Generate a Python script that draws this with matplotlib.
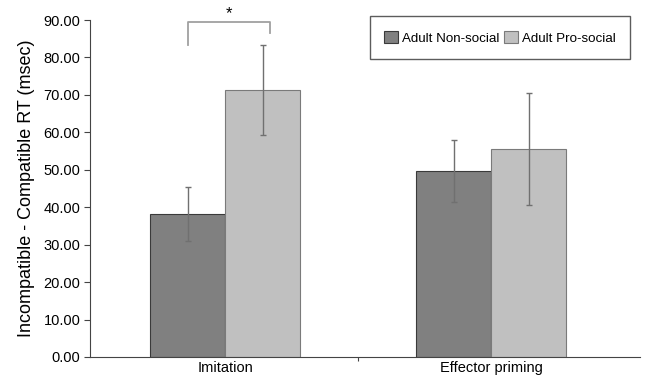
import matplotlib.pyplot as plt
import numpy as np

plt.rcParams['font.family'] = ['Liberation Sans', 'DejaVu Sans']

categories = ["Imitation", "Effector priming"]
series_names = ["Adult Non-social", "Adult Pro-social"]
non_social = [38.2, 49.6]
non_social_err = [7.2, 8.3]
pro_social = [71.3, 55.5]
pro_social_err = [11.9, 15.0]
y_ticks = [0, 10, 20, 30, 40, 50, 60, 70, 80, 90]

fig = plt.figure(figsize=(6.46, 3.77), dpi=100)
ax = fig.add_axes([90 / 646, 20 / 377, 550 / 646, 337 / 377])

x = np.arange(len(categories))
w = 0.282
err_kw = dict(ecolor="#707070", elinewidth=1.0, capsize=2.5, capthick=1.0)
ax.bar(x - w / 2, non_social, w, yerr=non_social_err, color="#808080",
       edgecolor="#3a3a3a", linewidth=0.8, label=series_names[0], error_kw=err_kw)
ax.bar(x + w / 2, pro_social, w, yerr=pro_social_err, color="#c0c0c0",
       edgecolor="#7a7a7a", linewidth=0.8, label=series_names[1], error_kw=err_kw)

ax.set_xlim(-0.508, 1.56)
ax.set_ylim(0, 90)
ax.set_yticks(y_ticks)
ax.set_yticklabels([f"{v:.2f}" for v in y_ticks], fontsize=10.5)
ax.tick_params(axis="y", direction="out", length=4, color="#444444", pad=3)

ax.set_xticks([0.5])
ax.set_xticklabels([""])
ax.tick_params(axis="x", direction="out", length=3, color="#444444")
for xi, name in zip(x, categories):
    ax.text(xi, -1.0, name, ha="center", va="top", fontsize=10.5)

ax.set_ylabel("Incompatible - Compatible RT (msec)", fontsize=13, labelpad=6)
for side in ["top", "right"]:
    ax.spines[side].set_visible(False)
ax.spines["left"].set_color("#444444")
ax.spines["bottom"].set_color("#444444")

# significance bracket
bx0 = x[0] - w / 2
bx1 = x[0] + 0.169
ax.plot([bx0, bx0, bx1, bx1], [83.4, 89.5, 89.5, 86.6], color="#a0a0a0", lw=1.3,
        clip_on=False)
ax.text((bx0 + bx1) / 2, 89.8, "*", ha="center", va="bottom", fontsize=12)

leg = ax.legend(loc="upper right", bbox_to_anchor=(0.982, 1.012), ncol=2, fontsize=9.6,
                frameon=True, fancybox=False, edgecolor="#333333",
                handlelength=1.0, handleheight=1.1, handletextpad=0.3,
                columnspacing=0.4, borderpad=1.1, borderaxespad=0)
leg.get_frame().set_linewidth(1.0)

fig.savefig("out.png", dpi=100)
